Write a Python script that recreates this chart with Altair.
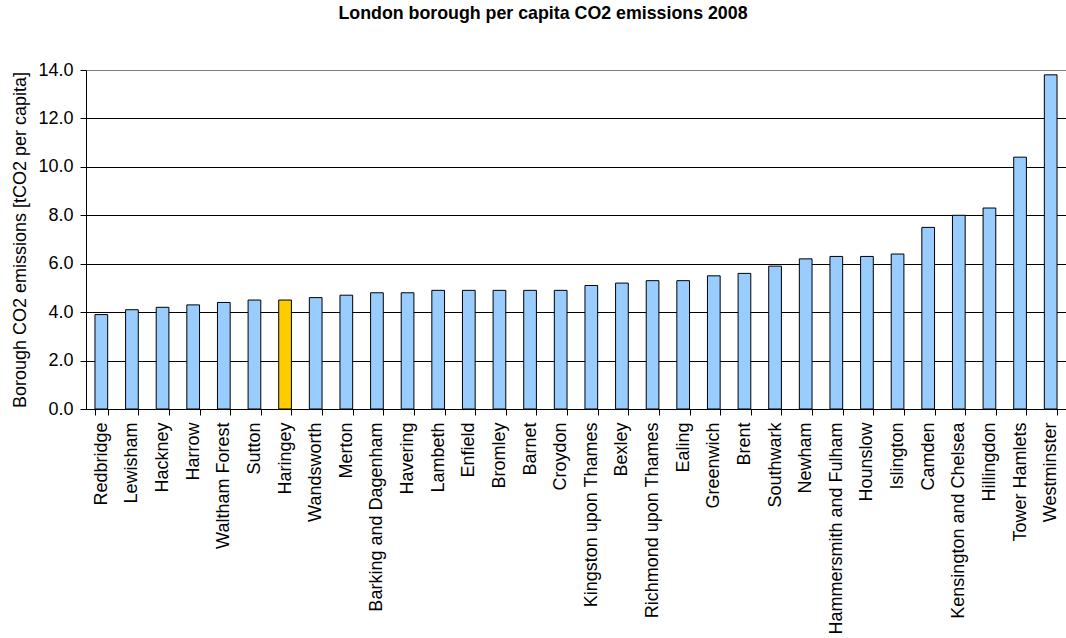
import altair as alt
import pandas as pd

boroughs = [
    "Redbridge", "Lewisham", "Hackney", "Harrow", "Waltham Forest", "Sutton",
    "Haringey", "Wandsworth", "Merton", "Barking and Dagenham", "Havering",
    "Lambeth", "Enfield", "Bromley", "Barnet", "Croydon", "Kingston upon Thames",
    "Bexley", "Richmond upon Thames", "Ealing", "Greenwich", "Brent", "Southwark",
    "Newham", "Hammersmith and Fulham", "Hounslow", "Islington", "Camden",
    "Kensington and Chelsea", "Hillingdon", "Tower Hamlets", "Westminster",
]
emissions = [
    3.9, 4.1, 4.2, 4.3, 4.4, 4.5,
    4.5, 4.6, 4.7, 4.8, 4.8,
    4.9, 4.9, 4.9, 4.9, 4.9, 5.1,
    5.2, 5.3, 5.3, 5.5, 5.6, 5.9,
    6.2, 6.3, 6.3, 6.4, 7.5,
    8.0, 8.3, 10.4, 13.8,
]
highlight = ["Haringey"]

df = pd.DataFrame({
    "borough": boroughs,
    "value": emissions,
    "group": ["highlight" if b in highlight else "other" for b in boroughs],
})

FONT = "Liberation Sans"

chart = (
    alt.Chart(df)
    .mark_bar(stroke="black", strokeWidth=1)
    .encode(
        x=alt.X(
            "borough:N",
            sort=None,
            title=None,
            scale=alt.Scale(paddingInner=0.585, paddingOuter=0.2925),
            axis=alt.Axis(
                labelAngle=-90,
                labelFontSize=18,
                labelFont=FONT,
                labelColor="black",
                labelPadding=7,
                labelLimit=0,
                tickBand="extent",
                tickSize=6,
                tickColor="black",
                domainColor="black",
                labelOverlap=False,
                grid=False,
            ),
        ),
        y=alt.Y(
            "value:Q",
            title="Borough CO2 emissions [tCO2 per capita]",
            scale=alt.Scale(domain=[0, 14], nice=False),
            axis=alt.Axis(
                values=[0, 2, 4, 6, 8, 10, 12, 14],
                format=".1f",
                labelFontSize=18,
                labelFont=FONT,
                labelColor="black",
                labelPadding=7,
                tickSize=6,
                tickColor="black",
                domainColor="black",
                titleFontSize=18,
                titleFont=FONT,
                titleFontWeight="normal",
                titleColor="black",
                titlePadding=8,
                grid=True,
                gridColor={"condition": {"test": "datum.value === 14", "value": "#808080"}, "value": "black"},
                gridOpacity=1,
                gridWidth=1,
            ),
        ),
        fill=alt.Fill(
            "group:N",
            scale=alt.Scale(domain=["other", "highlight"], range=["#99ccff", "#ffcc00"]),
            legend=None,
        ),
    )
    .properties(
        width=980,
        height=339,
        padding={"left": 86, "top": 70, "right": 0, "bottom": 229},
        autosize=alt.AutoSizeParams(type="none"),
        title=alt.Title(
            "London borough per capita CO2 emissions 2008",
            font=FONT,
            fontSize=17.8,
            fontWeight="bold",
            color="black",
            anchor="middle",
            offset=38,
            dx=-33,
        ),
    )
    .configure_view(fill="#c0c0c0", stroke="#808080", strokeWidth=1)
    .configure(background="white")
)

chart.save("out.html", embed_options={"renderer": "svg", "actions": False})
